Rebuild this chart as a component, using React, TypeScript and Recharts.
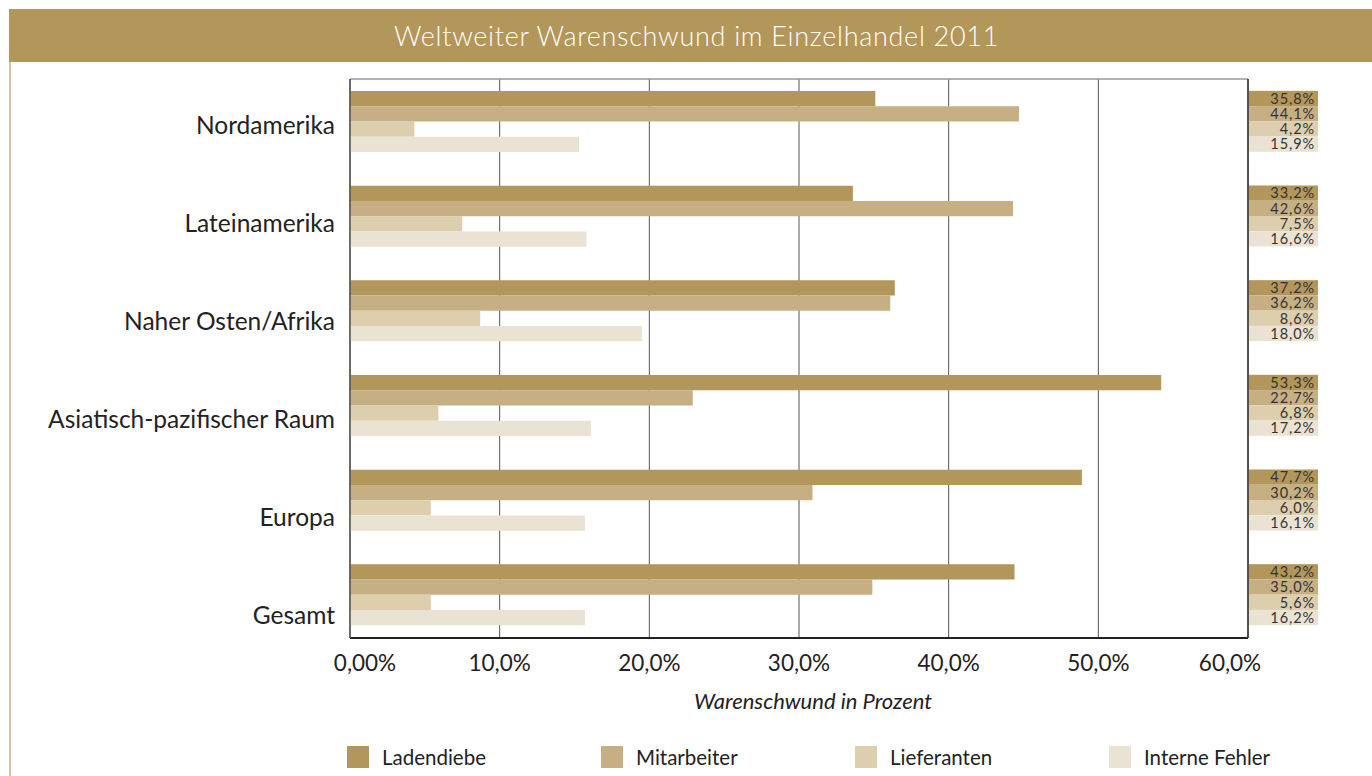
import React from 'react';
import { BarChart, Bar, XAxis, YAxis, CartesianGrid, Legend } from 'recharts';

const categories = [
  'Nordamerika',
  'Lateinamerika',
  'Naher Osten/Afrika',
  'Asiatisch-pazifischer Raum',
  'Europa',
  'Gesamt',
];

// bar lengths as drawn in the picture (percent)
const ladendiebe = [35.1, 33.6, 36.4, 54.2, 48.9, 44.4];
const mitarbeiter = [44.7, 44.3, 36.1, 22.9, 30.9, 34.9];
const lieferanten = [4.3, 7.5, 8.7, 5.9, 5.4, 5.4];
const interneFehler = [15.3, 15.8, 19.5, 16.1, 15.7, 15.7];

// value labels printed at the right side
const ladendiebeLabels = ['35,8%', '33,2%', '37,2%', '53,3%', '47,7%', '43,2%'];
const mitarbeiterLabels = ['44,1%', '42,6%', '36,2%', '22,7%', '30,2%', '35,0%'];
const lieferantenLabels = ['4,2%', '7,5%', '8,6%', '6,8%', '6,0%', '5,6%'];
const interneLabels = ['15,9%', '16,6%', '18,0%', '17,2%', '16,1%', '16,2%'];

const xTicks = [0, 10, 20, 30, 40, 50, 60];
const xTickLabels = ['0,00%', '10,0%', '20,0%', '30,0%', '40,0%', '50,0%', '60,0%'];

const seriesNames = ['Ladendiebe', 'Mitarbeiter', 'Lieferanten', 'Interne Fehler'];
const seriesColors = ['#b39659', '#c6af82', '#ddcead', '#eae3d3'];

const data = categories.map((name, i) => ({
  name,
  ladendiebe: ladendiebe[i],
  mitarbeiter: mitarbeiter[i],
  lieferanten: lieferanten[i],
  interne: interneFehler[i],
}));

const labelRows = [ladendiebeLabels, mitarbeiterLabels, lieferantenLabels, interneLabels];

const FONT = 'Lato, "Open Sans", sans-serif';
const BAR = 15.25;

const XTick = (props: any) => {
  const { x, y, payload } = props;
  const idx = xTicks.indexOf(payload.value);
  const shift = idx === 0 ? 15 : idx === xTicks.length - 1 ? -18 : 0;
  return (
    <text x={x + shift} y={y} dy="0.71em" textAnchor="middle" fontSize={22.5} fill="#222" fontFamily={FONT}>
      {xTickLabels[idx]}
    </text>
  );
};

const CatTick = (props: any) => {
  const { x, y, payload } = props;
  return (
    <text x={x} y={y} dy="0.35em" textAnchor="end" fontSize={24.5} fill="#222" fontFamily={FONT}>
      {payload.value}
    </text>
  );
};

const ValueTick = (props: any) => {
  const { x, y, payload } = props;
  const idx = categories.indexOf(payload.value);
  const top = y - 2 * BAR;
  return (
    <g>
      {labelRows.map((row, k) => (
        <g key={k}>
          <rect x={x + 1} y={top + k * BAR} width={69} height={BAR} fill={seriesColors[k]} />
          <text
            x={x + 67}
            y={top + k * BAR + BAR / 2}
            dy="0.36em"
            textAnchor="end"
            fontSize={14.5}
            letterSpacing={0.9}
            fill="#333"
            fontFamily={FONT}
          >
            {row[idx]}
          </text>
        </g>
      ))}
    </g>
  );
};

const LegendContent = (props: any) => {
  const items = [...(props.payload || [])].sort(
    (a: any, b: any) => seriesNames.indexOf(a.value) - seriesNames.indexOf(b.value)
  );
  return (
    <div style={{ position: 'relative', width: 1000, height: 24 }}>
      {items.map((p: any, i: number) => (
        <div
          key={i}
          style={{ position: 'absolute', left: i * 254, top: 0, display: 'flex', alignItems: 'center' }}
        >
          <span style={{ display: 'inline-block', width: 22, height: 22, background: p.color }} />
          <span style={{ marginLeft: 13, fontSize: 20.5, color: '#222', fontFamily: FONT, whiteSpace: 'nowrap' }}>
            {p.value}
          </span>
        </div>
      ))}
    </div>
  );
};

export default function App() {
  return (
    <div
      style={{
        position: 'absolute',
        left: 8,
        top: 8,
        width: 1364,
        height: 768,
        background: '#fff',
        fontFamily: FONT,
        overflow: 'hidden',
      }}
    >
      <div
        style={{
          position: 'absolute',
          left: 1,
          top: 1,
          width: 1363,
          height: 53,
          background: '#b39659',
          color: '#fff',
          fontSize: 27,
          fontWeight: 300,
          letterSpacing: 0.7,
          display: 'flex',
          alignItems: 'center',
          justifyContent: 'center',
          paddingLeft: 12,
          boxSizing: 'border-box',
        }}
      >
        Weltweiter Warenschwund im Einzelhandel 2011
      </div>
      <div style={{ position: 'absolute', left: 1, top: 54, width: 2, height: 714, background: '#d6c29c' }} />
      <div style={{ position: 'absolute', left: 0, top: 53 }}>
        <BarChart
          width={1364}
          height={715}
          data={data}
          layout="vertical"
          barGap={0}
          margin={{ top: 17, right: 54, bottom: 98, left: 0 }}
        >
          <CartesianGrid horizontal={false} stroke="#555" strokeWidth={1} yAxisId="bars" />
          <XAxis
            type="number"
            domain={[0, 60]}
            ticks={xTicks}
            interval={0}
            height={40}
            tickSize={0}
            tickLine={false}
            tickMargin={17}
            axisLine={{ stroke: '#222', strokeWidth: 2 }}
            tick={<XTick />}
            label={{
              value: 'Warenschwund in Prozent',
              position: 'bottom',
              offset: 15,
              dx: 14,
              fontSize: 22,
              fontStyle: 'italic',
              fill: '#222',
              fontFamily: FONT,
            }}
          />
          <XAxis
            xAxisId="top"
            orientation="top"
            type="number"
            domain={[0, 60]}
            height={1}
            tick={false}
            tickLine={false}
            axisLine={{ stroke: '#999', strokeWidth: 1.5 }}
          />
          <YAxis
            yAxisId="labels"
            type="category"
            dataKey="name"
            width={342}
            tickSize={0}
            tickMargin={15}
            tickLine={false}
            padding={{ top: -3, bottom: -26 }}
            axisLine={{ stroke: '#555', strokeWidth: 1.5 }}
            tick={<CatTick />}
            interval={0}
          />
          <YAxis
            yAxisId="bars"
            type="category"
            dataKey="name"
            hide
            width={0}
            padding={{ top: -5, bottom: -4 }}
          />
          <YAxis
            yAxisId="values"
            orientation="right"
            type="category"
            dataKey="name"
            width={70}
            tickSize={0}
            tickMargin={0}
            tickLine={false}
            padding={{ top: -5, bottom: -4 }}
            axisLine={{ stroke: '#333', strokeWidth: 1.5 }}
            tick={<ValueTick />}
            interval={0}
          />
          <Legend
            layout="horizontal"
            verticalAlign="middle"
            align="center"
            content={<LegendContent />}
            wrapperStyle={{ left: 339, top: 684, width: 1000, height: 24 }}
          />
          <Bar yAxisId="bars" dataKey="ladendiebe" name={seriesNames[0]} fill={seriesColors[0]} barSize={BAR} isAnimationActive={false} />
          <Bar yAxisId="bars" dataKey="mitarbeiter" name={seriesNames[1]} fill={seriesColors[1]} barSize={BAR} isAnimationActive={false} />
          <Bar yAxisId="bars" dataKey="lieferanten" name={seriesNames[2]} fill={seriesColors[2]} barSize={BAR} isAnimationActive={false} />
          <Bar yAxisId="bars" dataKey="interne" name={seriesNames[3]} fill={seriesColors[3]} barSize={BAR} isAnimationActive={false} />
        </BarChart>
      </div>
    </div>
  );
}
